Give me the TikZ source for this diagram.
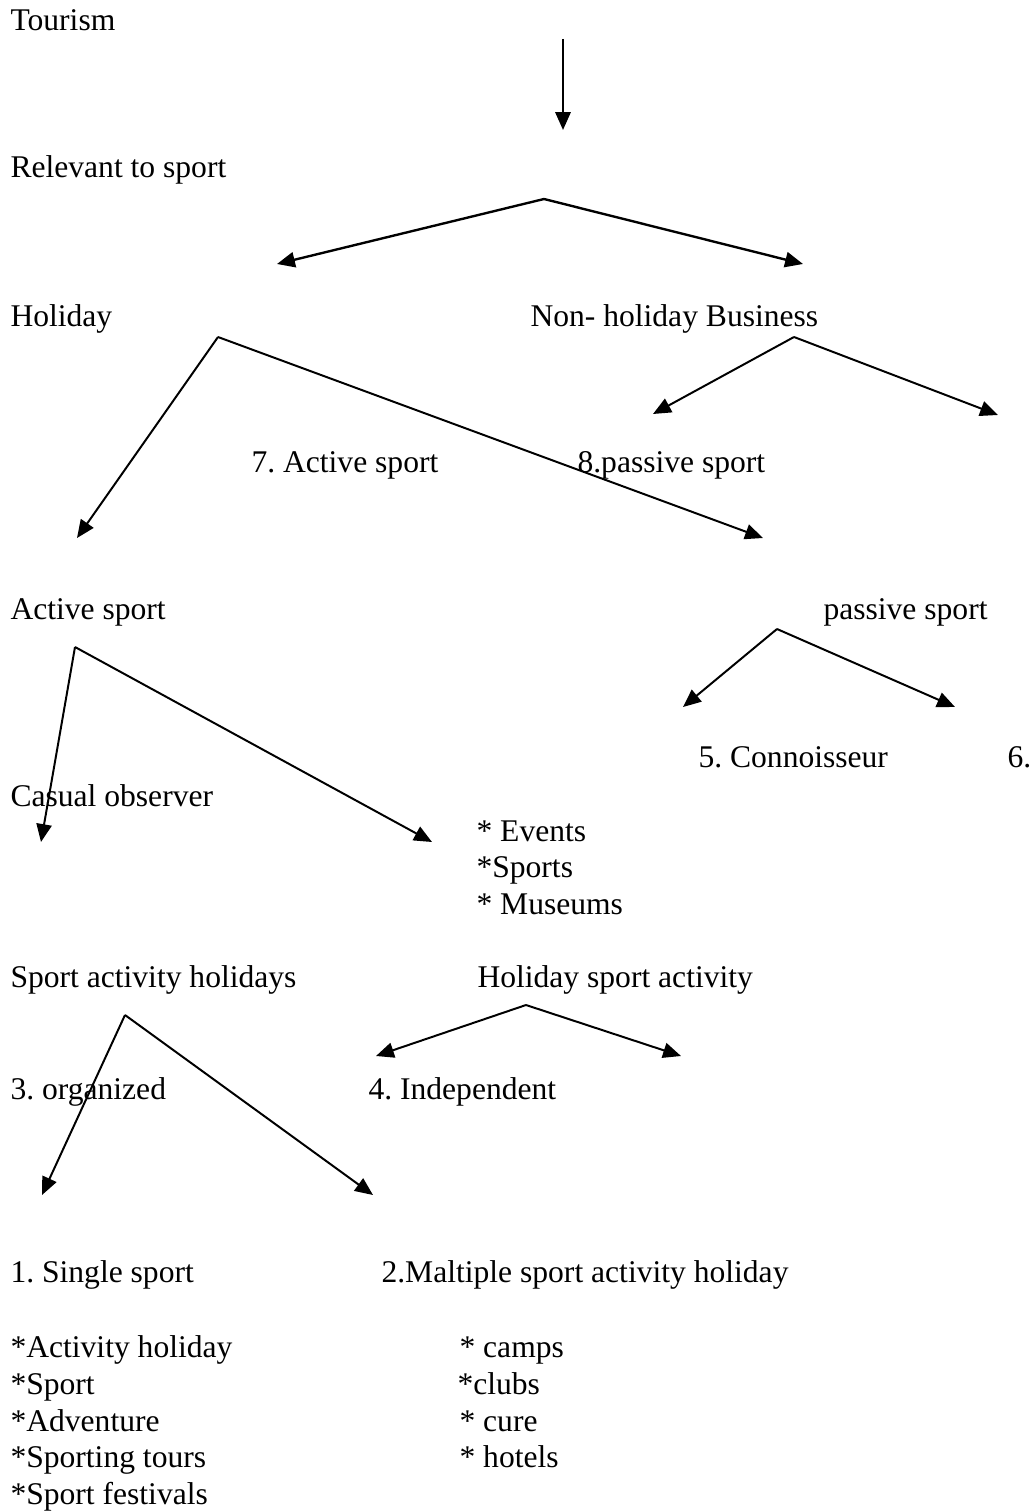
\documentclass[tikz,border=0pt]{standalone}
\usepackage{fontspec}
\setmainfont{Liberation Serif}
\usetikzlibrary{arrows.meta}
\frenchspacing
\begin{document}
\begin{tikzpicture}[x=0.38pt,y=-0.38pt,
  lbl/.style={anchor=base west,inner sep=0pt,font=\fontsize{12}{14}\selectfont},
  arr/.style={line width=0.75pt,-{Triangle[length=6.8pt,width=5.8pt]}},
  arrthick/.style={arr,line width=0.9pt}]
\useasboundingbox (0,0) rectangle (1033,1512);
% texts
\node[lbl] (tourism) at (10,31) {Tourism};
\node[lbl] (relevant) at (10,178) {Relevant to sport};
\node[lbl] (holiday) at (10,326) {Holiday};
\node[lbl] (nonhol) at (530,326) {Non- holiday Business};
\node[lbl] (act7) at (251,472) {7. Active sport};
\node[lbl] (pas8) at (577,472) {8.passive sport};
\node[lbl] (active) at (10,619) {Active sport};
\node[lbl] (passive) at (823,619) {passive sport};
\node[lbl] (conn) at (698,767) {5. Connoisseur};
\node[lbl] (six) at (1007,767) {6.};
\node[lbl] (casual) at (10,806) {Casual observer};
\node[lbl] (events) at (476,841) {* Events};
\node[lbl] (sports) at (476,877) {*Sports};
\node[lbl] (museums) at (476,914) {* Museums};
\node[lbl] (sah) at (10,987) {Sport activity holidays};
\node[lbl] (hsa) at (477,987) {Holiday sport activity};
\node[lbl] (org) at (10,1099) {3. organized};
\node[lbl] (indep) at (368,1099) {4. Independent};
\node[lbl] (single) at (10,1282) {1. Single sport};
\node[lbl] (multi) at (381,1282) {2.Maltiple sport activity holiday};
\node[lbl] (s1) at (10,1357) {*Activity holiday};
\node[lbl] (s2) at (10,1394) {*Sport};
\node[lbl] (s3) at (10,1431) {*Adventure};
\node[lbl] (s4) at (10,1467) {*Sporting tours};
\node[lbl] (s5) at (10,1504) {*Sport festivals};
\node[lbl] (m1) at (459,1357) {* camps};
\node[lbl] (m2) at (457,1394) {*clubs};
\node[lbl] (m3) at (459,1431) {* cure};
\node[lbl] (m4) at (459,1467) {* hotels};
% connector points
\coordinate (t0) at (563,39);
\coordinate (t1) at (563,130);
\coordinate (ra) at (544,199);
\coordinate (rl) at (277,264);
\coordinate (rr) at (803,264);
\coordinate (ha) at (218,337);
\coordinate (hl) at (77,538);
\coordinate (hr) at (763,538);
\coordinate (na) at (794,337);
\coordinate (nl) at (653,414);
\coordinate (nr) at (998,415);
\coordinate (aa) at (75,647);
\coordinate (al) at (41,842);
\coordinate (ar) at (432,842);
\coordinate (pa) at (777,629);
\coordinate (pl) at (683,707);
\coordinate (pr) at (955,707);
\coordinate (qa) at (526,1005);
\coordinate (ql) at (376,1056);
\coordinate (qr) at (681,1056);
\coordinate (sa) at (125,1015);
\coordinate (sl) at (42,1195);
\coordinate (sr) at (373,1195);
% connectors
\draw[arrthick] (t0) -- (t1);
\draw[arrthick] (ra) -- (rl);
\draw[arrthick] (ra) -- (rr);
\draw[arr] (ha) -- (hl);
\draw[arr] (ha) -- (hr);
\draw[arr] (na) -- (nl);
\draw[arr] (na) -- (nr);
\draw[arr] (aa) -- (al);
\draw[arr] (aa) -- (ar);
\draw[arr] (pa) -- (pl);
\draw[arr] (pa) -- (pr);
\draw[arr] (qa) -- (ql);
\draw[arr] (qa) -- (qr);
\draw[arr] (sa) -- (sl);
\draw[arr] (sa) -- (sr);
\end{tikzpicture}
\end{document}
